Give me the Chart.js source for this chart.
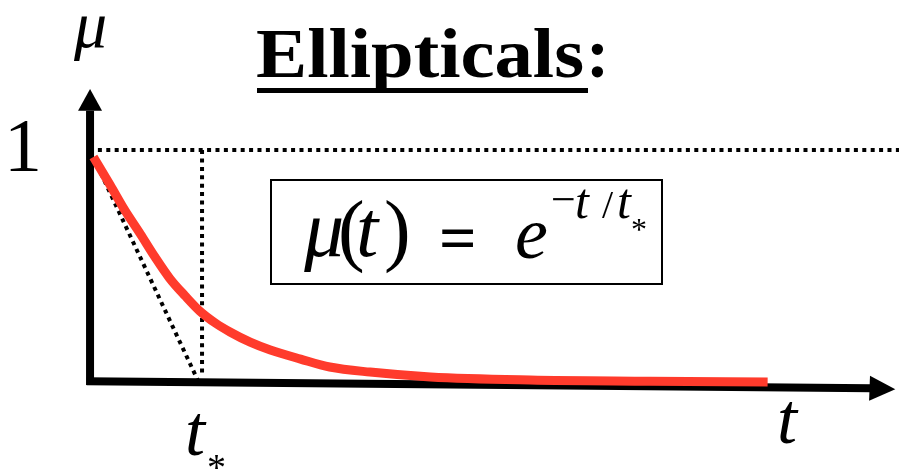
<!DOCTYPE html>
<html>
<head>
<meta charset="utf-8">
<script src="https://cdn.jsdelivr.net/npm/chart.js@4/dist/chart.umd.min.js"></script>
</head>
<body style="margin:0">
<div id="wrap" style="position:relative;width:899px;height:473px;overflow:hidden"><canvas id="c" width="899" height="473"></canvas></div>
<script>
// ---- data (t in units of t*, mu normalised) ----
const curveT  = [0.03, 0.18, 0.31, 0.45, 0.58, 0.71, 0.85, 0.98, 1.12, 1.25, 1.43, 1.61, 1.88, 2.14, 2.5, 3.04, 3.93, 5.0, 6.05];
const curveMu = [0.970, 0.849, 0.741, 0.638, 0.539, 0.448, 0.371, 0.306, 0.254, 0.216, 0.172, 0.138, 0.099, 0.065, 0.043, 0.022, 0.009, 0.004, 0.0];
const tangentT  = [0.0, 0.96];
const tangentMu = [1.0, 0.01];
const tStarT  = [1.0, 1.0];
const tStarMu = [1.0, 0.04];
const unitT  = [0.07, 7.25];
const unitMu = [1.0, 1.0];
// axes (t, mu)
const yAxisT = [0.0, 0.0, 0.0];
const yAxisMu = [-0.013, 1.17, 1.263];      // bottom, arrow base, arrow tip
const xAxisT = [-0.03, 6.96, 7.19];          // start, arrow base, arrow tip
const xAxisMu = [0.004, -0.027, -0.031];
// labels
const titleText = "Ellipticals";
const yLabel = "μ";
const xLabel = "t";
const oneLabel = "1";
const tStarLabel = ["t", "*"];

const pts = (xs, ys) => xs.map((x, i) => ({ x: x, y: ys[i] }));

const dotted = (data) => ({
  type: 'line', data: data, borderColor: '#000', borderWidth: 4,
  borderDash: [4, 4.4], borderCapStyle: 'butt', pointRadius: 0, fill: false,
  tension: 0, clip: false, order: 1
});

const wrap = document.getElementById('wrap');
const BASE = 30; // text is laid out at this size and scaled up
// place a text label so that its alphabetic baseline sits at `base`
function label(txt, x, base, size, opts) {
  opts = opts || {};
  const st = (opts.italic ? 'italic ' : '') + (opts.bold ? 'bold ' : '');
  const d = document.createElement('div');
  d.style.cssText = 'position:absolute;white-space:nowrap;color:#000;transform-origin:0 0;left:' + x + 'px;top:' +
    (base - 0.8375 * size) + 'px;font:' + st + BASE + 'px/' + BASE + 'px "Liberation Serif"';
  const s = document.createElement('span');
  s.textContent = txt;
  d.appendChild(s);
  wrap.appendChild(d);
  const k = size / BASE;
  let kx = k;
  if (opts.width) kx = opts.width / s.getBoundingClientRect().width;
  d.style.transform = 'scale(' + kx + ',' + k + ')';
  return d;
}
function rect(x, y, w, h, border) {
  const d = document.createElement('div');
  d.style.cssText = 'position:absolute;left:' + x + 'px;top:' + y + 'px;width:' + w + 'px;height:' + h + 'px;box-sizing:border-box;' +
    (border ? 'border:2px solid #000;' : 'background:#000;');
  wrap.appendChild(d);
}

const deco = {
  id: 'deco',
  beforeDatasetsDraw(chart) {
    const ctx = chart.ctx, xs = chart.scales.x, ys = chart.scales.y;
    const px = v => xs.getPixelForValue(v), py = v => ys.getPixelForValue(v);
    ctx.save();
    ctx.fillStyle = '#000'; ctx.strokeStyle = '#000'; ctx.lineWidth = 8; ctx.lineCap = 'butt';
    const yx = px(yAxisT[0]);
    ctx.beginPath(); ctx.moveTo(yx, py(yAxisMu[0])); ctx.lineTo(yx, py(yAxisMu[1])); ctx.stroke();
    ctx.beginPath();
    ctx.moveTo(yx - 12, py(yAxisMu[1])); ctx.lineTo(yx + 12, py(yAxisMu[1])); ctx.lineTo(yx, py(yAxisMu[2]));
    ctx.closePath(); ctx.fill();
    const x0 = px(xAxisT[0]), y0 = py(xAxisMu[0]);
    const xb = px(xAxisT[1]), yb = py(xAxisMu[1]);
    const xt = px(xAxisT[2]), yt = py(xAxisMu[2]);
    ctx.beginPath(); ctx.moveTo(x0, y0); ctx.lineTo(xb + 2, yb); ctx.stroke();
    let dx = xt - xb, dy = yt - yb; const L = Math.hypot(dx, dy); dx /= L; dy /= L;
    const nx = -dy, ny = dx, h = 12.5;
    ctx.beginPath();
    ctx.moveTo(xb + nx * h, yb + ny * h); ctx.lineTo(xb - nx * h, yb - ny * h); ctx.lineTo(xt, yt);
    ctx.closePath(); ctx.fill();
    ctx.restore();
  }
};

new Chart(document.getElementById('c'), {
  type: 'line',
  data: {
    datasets: [
      {
        data: pts(curveT, curveMu), borderColor: '#ff3b2c', borderWidth: 9,
        borderCapStyle: 'butt', pointRadius: 0, fill: false,
        cubicInterpolationMode: 'monotone', clip: false, order: 0
      },
      dotted(pts(tangentT, tangentMu)),
      dotted(pts(tStarT, tStarMu)),
      dotted(pts(unitT, unitMu))
    ]
  },
  options: {
    responsive: false, animation: false, events: [],
    layout: { padding: 0 },
    plugins: { legend: { display: false }, tooltip: { enabled: false }, title: { display: false } },
    scales: {
      x: { type: 'linear', display: false, min: -0.804, max: 7.223 },
      y: { type: 'linear', display: false, min: -0.392, max: 1.647 }
    }
  },
  plugins: [deco]
});

// ---- text (real text, Times-like serif) ----
label(titleText, 256, 78, 70, { bold: true, width: 328 });
label(':', 586, 78, 70, { bold: true });
rect(257, 88, 331, 5);
label(yLabel, 74, 47, 66, { italic: true });
label(oneLabel, 4, 172, 76);
label(xLabel, 777, 443, 72, { italic: true });
label(tStarLabel[0], 185, 455, 72, { italic: true });
label(tStarLabel[1], 207, 480, 38);
// formula box
rect(270, 179, 393, 106, true);
label('μ', 304, 256, 80, { italic: true });
label('(', 338, 256, 80);
label('t', 356, 256, 80, { italic: true });
label(')', 384, 256, 80);
label('=', 439, 260, 66, { bold: true });
label('e', 515, 258, 74, { italic: true });
label('−', 551, 214, 44);
label('t', 575, 218, 50, { italic: true });
label('/', 602, 218, 40);
label('t', 617, 218, 50, { italic: true });
label('*', 631, 240, 32);
</script>
</body>
</html>
